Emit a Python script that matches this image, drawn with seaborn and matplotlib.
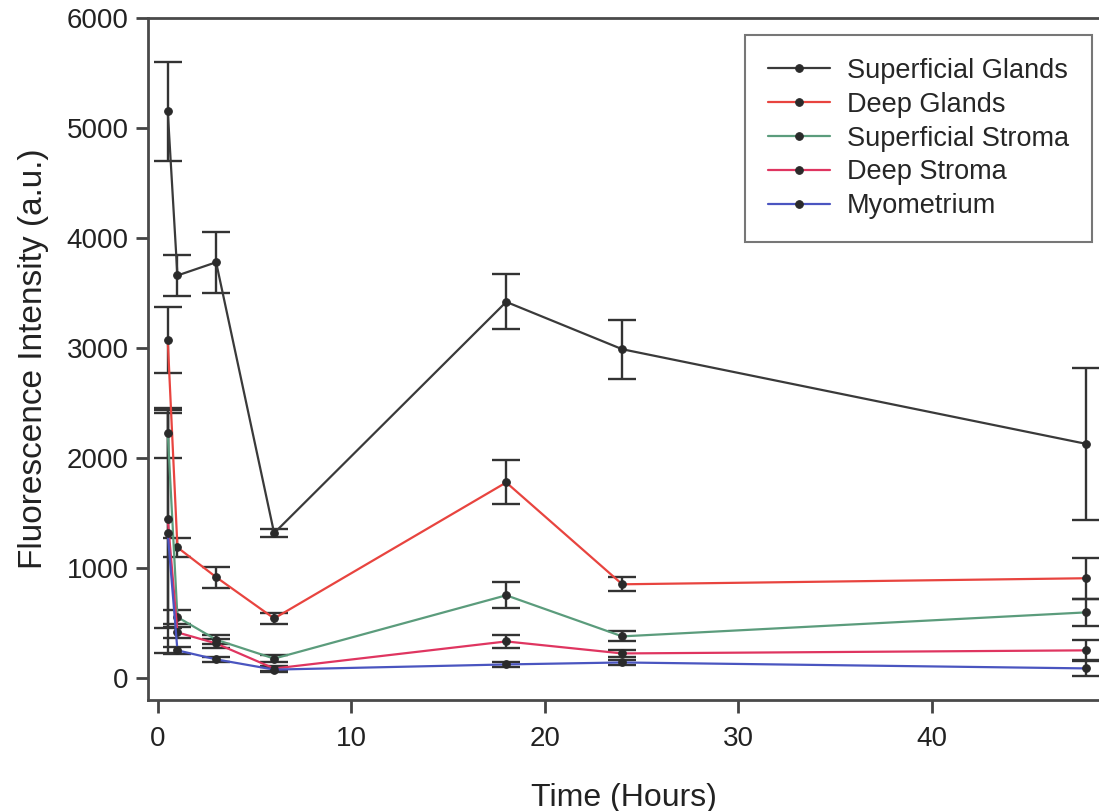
import numpy as np
import pandas as pd
import matplotlib.pyplot as plt
import seaborn as sns

# time points (hours)
times = [0.5, 1, 3, 6, 18, 24, 48]

series_names = ["Superficial Glands", "Deep Glands", "Superficial Stroma",
                "Deep Stroma", "Myometrium"]

sup_glands = [5150, 3660, 3780, 1320, 3420, 2990, 2130]
sup_glands_err = [450, 185, 275, 40, 250, 270, 690]
deep_glands = [3070, 1190, 920, 545, 1780, 855, 910]
deep_glands_err = [300, 85, 95, 50, 200, 65, 185]
sup_stroma = [2230, 557, 352, 180, 755, 382, 600]
sup_stroma_err = [230, 60, 40, 30, 118, 45, 125]
deep_stroma = [1445, 418, 318, 90, 336, 227, 255]
deep_stroma_err = [990, 50, 40, 25, 60, 30, 90]
myometrium = [1318, 255, 173, 80, 127, 145, 91]
myometrium_err = [1090, 30, 25, 25, 20, 25, 70]

colors = ["#3a3a3a", "#e8443f", "#5b9c7c", "#df3560", "#4a55c0"]

means = [sup_glands, deep_glands, sup_stroma, deep_stroma, myometrium]
errs = [sup_glands_err, deep_glands_err, sup_stroma_err, deep_stroma_err, myometrium_err]

rows = []
for name, m, e in zip(series_names, means, errs):
    for t, v, s in zip(times, m, e):
        rows.append({"Time": t, "Intensity": v, "err": s, "Region": name})
df = pd.DataFrame(rows)

sns.set_style("white")
plt.rcParams['font.family'] = ['Liberation Sans', 'DejaVu Sans']

fig = plt.figure(figsize=(10.99, 8.11), dpi=100)
ax = fig.add_axes([0.1347, 0.137, 0.8653, 0.841])

# error bars first, lines on top
for name, c in zip(series_names, colors):
    d = df[df.Region == name]
    ax.errorbar(d.Time, d.Intensity, yerr=d.err, fmt='none', ecolor='#333333',
                elinewidth=1.7, capsize=10, capthick=1.7, zorder=2)

sns.lineplot(data=df, x="Time", y="Intensity", hue="Region", hue_order=series_names,
             palette=colors, marker='o', markersize=5.5, markerfacecolor='#2a2a2a',
             markeredgecolor='#2a2a2a', linewidth=1.6, ax=ax, zorder=3)

ax.set_xlim(-0.52, 48.65)
ax.set_ylim(-195, 6000)
ax.set_xticks([0, 10, 20, 30, 40])
ax.set_yticks([0, 1000, 2000, 3000, 4000, 5000, 6000])
ax.tick_params(bottom=True, left=True, direction='out', length=9, width=2,
               colors='#444444', labelsize=20, labelcolor='#222222', pad=5)
ax.tick_params(axis='x', pad=10)
for sp in ['left', 'bottom', 'top']:
    ax.spines[sp].set_color('#4a4a4a')
    ax.spines[sp].set_linewidth(2)
ax.spines['right'].set_visible(False)

ax.set_xlabel("Time (Hours)", fontsize=23, color='#222222', labelpad=22)
ax.set_ylabel("Fluorescence Intensity (a.u.)", fontsize=24, color='#222222', labelpad=13)

handles, labels = ax.get_legend_handles_labels()
leg = ax.legend(handles, labels, loc='upper left', bbox_to_anchor=(0.678, 0.957),
                bbox_transform=fig.transFigure, fontsize=19.5, frameon=True,
                fancybox=False, edgecolor='#555555', handlelength=2.3,
                borderpad=0.85, borderaxespad=0, labelspacing=0.29,
                handletextpad=0.6)
leg.get_frame().set_linewidth(1.5)

fig.savefig("out.png", dpi=100)
